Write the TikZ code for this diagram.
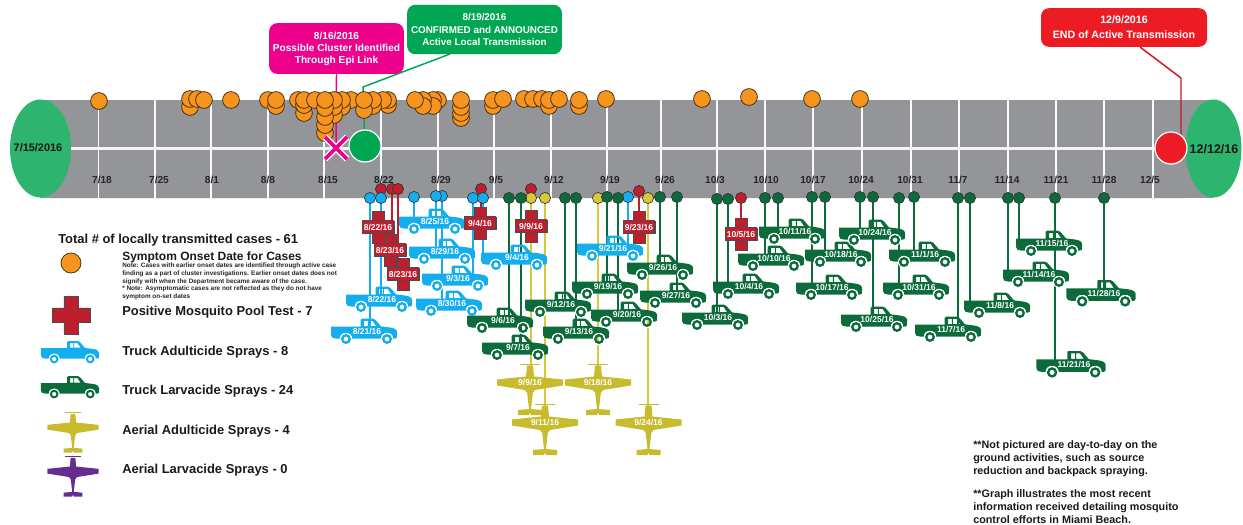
\documentclass[tikz,border=0pt]{standalone}
\usepackage{fontspec}
\setmainfont{Liberation Sans}
\usetikzlibrary{backgrounds}
\pgfdeclarelayer{barlayer}
\pgfdeclarelayer{connlayer}
\pgfsetlayers{barlayer,connlayer,main}
\definecolor{barG}{HTML}{939598}
\definecolor{endG}{HTML}{2DB46E}
\definecolor{orangeC}{HTML}{F7941D}
\definecolor{edgeC}{HTML}{3B2A14}
\definecolor{blueC}{HTML}{14AEEF}
\definecolor{greenC}{HTML}{0B6B3A}
\definecolor{yelC}{HTML}{C8BB2E}
\definecolor{yelL}{HTML}{D8C93A}
\definecolor{purC}{HTML}{662D91}
\definecolor{redC}{HTML}{BE1E2D}
\definecolor{magC}{HTML}{EC008C}
\definecolor{grnC}{HTML}{00A651}
\definecolor{endR}{HTML}{ED1C24}
\tikzset{
  x=0.75pt,y=-0.75pt,
  ticklbl/.style={font=\bfseries\fontsize{7.6}{9}\selectfont,text=black!85,inner sep=0},
  onsetdot/.style={circle,draw=edgeC,line width=.55pt,fill=orangeC,minimum size=12.6pt,inner sep=0},
  basedot/.style={circle,draw=black!80,line width=.5pt,minimum size=8.4pt,inner sep=0},
  linkline/.style={line width=1.15pt},
  vehlbl/.style={text=white,font=\bfseries\fontsize{6.4}{7}\selectfont,inner sep=0,minimum width=1pt},
  crosslbl/.style={fill=redC,draw=black!70,line width=.4pt,text=white,font=\bfseries\fontsize{6.4}{7}\selectfont,inner sep=0,minimum width=23.5pt,minimum height=10pt},
  callout/.style={rounded corners=6pt,text=white,align=center,font=\bfseries\fontsize{7.6}{9}\selectfont,inner sep=0},
  legendtxt/.style={anchor=west,inner sep=0,font=\bfseries\fontsize{9.7}{11}\selectfont,text=black!90},
  endlbl/.style={inner sep=0,font=\bfseries,text=black!90},
}
\newcommand{\trkshape}[4]{%
  \begin{scope}[shift={(#1,#2)},scale=#3]
    \fill[#4,even odd rule] (-33,-4.3) -- (-33,4) .. controls (-33,6.5) and (-31,7.5) .. (-28,7.5) -- (-24.2,7.5) .. controls (-24.2,-0.3) and (-11.8,-0.3) .. (-11.8,7.5) -- (16.8,7.5) .. controls (16.8,-0.3) and (29.2,-0.3) .. (29.2,7.5) -- (31,7.5) .. controls (33,7) .. (33,4) -- (33,1) .. controls (33,-1.5) and (30,-3) .. (26,-3.5) -- (17,-4.6) -- (11.5,-11) .. controls (10.5,-12.3) .. (9,-12.3) -- (-2,-12.3) .. controls (-3.4,-12.3) .. (-3.4,-11) -- (-3.4,-4.3) -- cycle
      (0,-10.2) -- (3.8,-10.2) -- (3.8,-5) -- (0,-5) -- cycle
      (4.8,-10.2) -- (8.5,-10.2) -- (12,-5) -- (4.8,-5) -- cycle;
    \fill[white,even odd rule] (-18,8) circle[radius=6.1] (-18,8) circle[radius=5];
    \fill[white,even odd rule] (23,8) circle[radius=6.1] (23,8) circle[radius=5];
    \fill[#4,even odd rule] (-18,8) circle[radius=5] (-18,8) circle[radius=2.5];
    \fill[#4,even odd rule] (23,8) circle[radius=5] (23,8) circle[radius=2.5];
  \end{scope}}
\newcommand{\trk}[6][1]{%
  \trkshape{#3}{#4}{#1}{#5}
  \node[vehlbl] (#2) at (#3+3,#4) {#6};}
\newcommand{\plshape}[4]{%
  \begin{scope}[shift={(#1,#2)},scale=#3]
    \fill[#4] (-10,.6) -- (10,.6) -- (10,1.4) -- (-10,1.4) -- cycle;
    \fill[#4] (-3,2.5) -- (3,2.5) -- (4,13.5) -- (33,16.5) -- (33,22.5) -- (5,27) -- (2.8,30) -- (1,46) -- (12,47) -- (12,52) -- (1,52) -- (0,49.5) -- (-1,52) -- (-12,52) -- (-12,47) -- (-1,46) -- (-2.8,30) -- (-5,27) -- (-33,22.5) -- (-33,16.5) -- (-4,13.5) -- cycle;
  \end{scope}}
\newcommand{\pln}[5]{%
  \plshape{#2}{#3}{1}{#4}
  \node[vehlbl] (#1) at (#2,#3+19) {#5};}
\newcommand{\crsshape}[3]{%
  \begin{scope}[shift={(#1,#2)},scale=#3]
    \filldraw[fill=redC,draw=black!70,line width=.5pt] (-6,-16) -- (6,-16) -- (6,-6) -- (16,-6) -- (16,6) -- (6,6) -- (6,16) -- (-6,16) -- (-6,6) -- (-16,6) -- (-16,-6) -- (-6,-6) -- cycle;
  \end{scope}}
\newcommand{\crs}[4]{%
  \crsshape{#2}{#3}{1}
  \node[crosslbl] (#1) at (#2,#3) {#4};}
\newcommand{\bd}[4]{\node[basedot,fill=#4] (#1) at (#2,#3) {};}
\newcommand{\lnk}[3]{\begin{pgfonlayer}{connlayer}\draw[linkline,#3] (#1) -- (#1 |- #2);\end{pgfonlayer}}
\newcommand{\od}[3]{\node[onsetdot] (o#1) at (#2,#3) {};}
\begin{document}
\begin{tikzpicture}
\useasboundingbox (0,0) rectangle (1243,525);
\begin{pgfonlayer}{barlayer}
  \fill[barG] (40,99.5) rectangle (1213,198);
  \draw[white!85!barG,line width=.8pt] (40,198.3) -- (1185,198.3);
  \foreach \x in {98.5,155,211,268,324,381,438,494,551,607,661,717,765,813,862,911,959,1008,1056,1104,1153}
    \draw[white!95!barG,line width=1.1pt] (\x,100) -- (\x,198);
  \draw[white!90!barG,line width=2.3pt] (60,148.5) -- (1160,148.5);
  \fill[endG] (40.5,148.5) ellipse[x radius=30.5,y radius=49];
  \fill[endG] (1213.5,148.5) ellipse[x radius=28,y radius=49];
\end{pgfonlayer}
% tick labels
\node[ticklbl] (t1) at (102,180) {7/18};
\node[ticklbl] (t2) at (159,180) {7/25};
\node[ticklbl] (t3) at (212,180) {8/1};
\node[ticklbl] (t4) at (268,180) {8/8};
\node[ticklbl] (t5) at (328,180) {8/15};
\node[ticklbl] (t6) at (384,180) {8/22};
\node[ticklbl] (t7) at (441,180) {8/29};
\node[ticklbl] (t8) at (496,180) {9/5};
\node[ticklbl] (t9) at (554,180) {9/12};
\node[ticklbl] (t10) at (610,180) {9/19};
\node[ticklbl] (t11) at (665,180) {9/26};
\node[ticklbl] (t12) at (715,180) {10/3};
\node[ticklbl] (t13) at (766,180) {10/10};
\node[ticklbl] (t14) at (813,180) {10/17};
\node[ticklbl] (t15) at (861,180) {10/24};
\node[ticklbl] (t16) at (910,180) {10/31};
\node[ticklbl] (t17) at (958,180) {11/7};
\node[ticklbl] (t18) at (1007,180) {11/14};
\node[ticklbl] (t19) at (1056,180) {11/21};
\node[ticklbl] (t20) at (1104,180) {11/28};
\node[ticklbl] (t21) at (1150,180) {12/5};
\node[endlbl,font=\bfseries\fontsize{8.2}{10}\selectfont] (startlbl) at (38,148) {7/15/2016};
\node[endlbl,font=\bfseries\fontsize{9.4}{11}\selectfont] (endlbl) at (1214,149) {12/12/16};
% onset dots
\od{a}{99}{101}
\od{b}{190}{107}\od{c}{190}{99}\od{d}{197}{99}\od{e}{204}{100}
\od{f}{231}{100}
\od{g}{268}{100}\od{h}{276}{106}\od{i}{276}{100}
\od{j}{298}{100}\od{k}{304}{113}\od{l}{304}{105}\od{m}{304}{100}\od{n}{315}{100}
\od{o}{351}{100}\od{p}{342}{107}\od{q}{342}{100}\od{r}{334}{115}\od{s}{334}{107}\od{t}{334}{100}
\od{u}{325}{133}\od{v}{325}{125}\od{w}{325}{117}\od{x}{325}{108}\od{y}{325}{100}
\od{z}{388}{105}\od{aa}{388}{100}\od{ab}{383}{100}\od{ac}{373}{106}\od{ad}{373}{100}\od{ae}{364}{110}\od{af}{364}{100}
\od{aj}{438}{100}\od{al}{433}{100}\od{ak}{433}{106}\od{ai}{423}{100}\od{ah}{423}{106}\od{ag}{415}{100}
\od{am}{461}{118}\od{an}{461}{113}\od{ao}{461}{107}\od{ap}{461}{100}
\od{aq}{493}{106}\od{ar}{493}{100}\od{as}{503}{99}
\od{at}{524}{99}\od{au}{533}{99}\od{av}{542}{99}\od{aw}{549}{106}\od{ax}{549}{100}\od{ay}{559}{99}
\od{az}{579}{106}\od{ba}{579}{100}\od{bb}{606}{99}
\od{bc}{702}{99}\od{bd}{749}{97}\od{be}{812}{99}\od{bf}{860}{99}
% milestones
\node[circle,fill=grnC,draw=white,line width=.9pt,minimum size=24pt,inner sep=0] (mgreen) at (365,146) {};
\node[circle,fill=endR,draw=white,line width=.9pt,minimum size=24pt,inner sep=0] (mred) at (1171,148) {};
\coordinate (mx) at (336,148);
\draw[white,line width=5pt] (325,137) -- (347,159) (347,137) -- (325,159);
\draw[magC,line width=2.9pt] (325,137) -- (347,159) (347,137) -- (325,159);
\node[callout,fill=magC,minimum width=101pt,minimum height=38pt] (cmag) at (336.5,48.5) {8/16/2016\\Possible Cluster Identified\\Through Epi Link};
\node[callout,fill=grnC,minimum width=116pt,minimum height=37pt,font=\bfseries\fontsize{7.4}{9.2}\selectfont] (cgrn) at (484.5,29.5) {8/19/2016\\CONFIRMED and ANNOUNCED\\Active Local Transmission};
\node[callout,fill=endR,minimum width=124.5pt,minimum height=29pt,font=\bfseries\fontsize{8}{11}\selectfont] (cred) at (1124,27.5) {12/9/2016\\END of Active Transmission};
\coordinate (gbend) at (363,87);
\coordinate (rbend) at (1181,78);
\coordinate (rfoot) at (1140,47);
\coordinate (gfoot) at (450,54);
\begin{pgfonlayer}{connlayer}
  \draw[magC,line width=1.1pt] (cmag.south) -- (mx);
  \draw[grnC,line width=1.1pt] (mgreen) -- (gbend) -- (gfoot);
  \draw[endR!85!black,line width=1.1pt] (mred) -- (mred -| rbend) -- (rbend) -- (rfoot);
\end{pgfonlayer}
% trucks blue
\trk{b821}{364}{331}{blueC}{8/21/16}
\trk{b822}{379}{299}{blueC}{8/22/16}
\trk{b825}{432}{221}{blueC}{8/25/16}
\trk{b829}{442}{251}{blueC}{8/29/16}
\trk{b903}{455}{278}{blueC}{9/3/16}
\trk{b830}{449}{303}{blueC}{8/30/16}
\trk{b904}{514}{257}{blueC}{9/4/16}
\trk{b921}{610}{248}{blueC}{9/21/16}
% planes (below trucks)
\pln{p909}{530}{363}{yelC}{9/9/16}
\pln{p918}{598}{363}{yelC}{9/18/16}
\pln{p911}{545}{403}{yelC}{9/11/16}
\pln{p924}{648.5}{403}{yelC}{9/24/16}
% trucks green
\trk{g906}{500}{320}{greenC}{9/6/16}
\trk{g907}{515}{347}{greenC}{9/7/16}
\trk{g912}{558}{304}{greenC}{9/12/16}
\trk{g913}{576}{331}{greenC}{9/13/16}
\trk{g919}{605}{286}{greenC}{9/19/16}
\trk{g920}{624}{314}{greenC}{9/20/16}
\trk{g926}{660}{267}{greenC}{9/26/16}
\trk{g927}{673}{295}{greenC}{9/27/16}
\trk{g1003}{715}{317}{greenC}{10/3/16}
\trk{g1004}{746}{286}{greenC}{10/4/16}
\trk{g1010}{771}{258}{greenC}{10/10/16}
\trk{g1011}{792}{231}{greenC}{10/11/16}
\trk{g1017}{829}{287}{greenC}{10/17/16}
\trk{g1018}{838}{254}{greenC}{10/18/16}
\trk{g1024}{872}{232}{greenC}{10/24/16}
\trk{g1025}{874}{319}{greenC}{10/25/16}
\trk{g1031}{916}{287}{greenC}{10/31/16}
\trk{g1101}{922}{254}{greenC}{11/1/16}
\trk{g1107}{948}{329}{greenC}{11/7/16}
\trk{g1108}{997}{305}{greenC}{11/8/16}
\trk{g1115}{1049}{243}{greenC}{11/15/16}
\trk{g1114}{1036}{274}{greenC}{11/14/16}
\trk[1.05]{g1121}{1071}{364}{greenC}{11/21/16}
\trk[1.05]{g1128}{1101}{293}{greenC}{11/28/16}
% crosses
\crs{x822}{378}{227}{8/22/16}
\crs{x823}{390}{250}{8/23/16}
\crs{x823b}{403}{274}{8/23/16}
\crs{x904}{480}{223}{9/4/16}
\crs{x909}{531}{226}{9/9/16}
\crs{x923}{639}{227}{9/23/16}
\crs{x1005}{741}{234}{10/5/16}
% base dots: red first, then others
\bd{dr1}{381}{189}{redC}\bd{dr2}{392}{189}{redC}\bd{dr3}{398}{189}{redC}\bd{dr4}{481}{189}{redC}\bd{dr5}{531}{189}{redC}\bd{dr6}{639}{191}{redC}\bd{dr7}{741}{198}{redC}
\bd{db1}{370}{198}{blueC}\bd{db2}{381}{198}{blueC}\bd{db3}{414}{197}{blueC}\bd{db4}{442}{196}{blueC}\bd{db5}{436}{196}{blueC}\bd{db6}{473}{198}{blueC}\bd{db7}{483}{198}{blueC}\bd{db8}{628}{197}{blueC}
\bd{dy1}{531}{198}{yelL}\bd{dy2}{545}{198}{yelL}\bd{dy3}{598}{198}{yelL}\bd{dy4}{648}{198}{yelL}
\bd{dg1}{509}{198}{greenC}\bd{dg2}{521}{198}{greenC}\bd{dg3}{565}{198}{greenC}\bd{dg4}{576}{198}{greenC}\bd{dg5}{607}{197}{greenC}\bd{dg6}{618}{198}{greenC}\bd{dg7}{660}{197}{greenC}\bd{dg8}{677}{197}{greenC}
\bd{dg9}{717}{199}{greenC}\bd{dg10}{728}{199}{greenC}\bd{dg11}{765}{198}{greenC}\bd{dg12}{778}{198}{greenC}\bd{dg13}{812}{197}{greenC}\bd{dg14}{825}{197}{greenC}\bd{dg15}{860}{197}{greenC}\bd{dg16}{873}{197}{greenC}\bd{dg17}{899}{198}{greenC}\bd{dg18}{914}{197}{greenC}\bd{dg19}{958}{198}{greenC}\bd{dg20}{970}{198}{greenC}\bd{dg21}{1008}{198}{greenC}\bd{dg22}{1019}{198}{greenC}\bd{dg23}{1055}{198}{greenC}\bd{dg24}{1104}{198}{greenC}
% connectors
\lnk{dr1}{x822}{redC}\lnk{dr2}{x823}{redC}\lnk{dr3}{x823b}{redC}\lnk{dr4}{x904}{redC}\lnk{dr5}{x909}{redC}\lnk{dr6}{x923}{redC}\lnk{dr7}{x1005}{redC}
\lnk{db1}{b821}{blueC}\lnk{db2}{b822}{blueC}\lnk{db3}{b825}{blueC}\lnk{db5}{b829}{blueC}\lnk{db4}{b830}{blueC}\lnk{db6}{b903}{blueC}\lnk{db7}{b904}{blueC}\lnk{db8}{b921}{blueC}
\lnk{dy1}{p909}{yelL}\lnk{dy2}{p911}{yelL}\lnk{dy3}{p918}{yelL}\lnk{dy4}{p924}{yelL}
\lnk{dg1}{g906}{greenC}\lnk{dg2}{g907}{greenC}\lnk{dg3}{g912}{greenC}\lnk{dg4}{g913}{greenC}\lnk{dg5}{g919}{greenC}\lnk{dg6}{g920}{greenC}\lnk{dg7}{g926}{greenC}\lnk{dg8}{g927}{greenC}
\lnk{dg9}{g1003}{greenC}\lnk{dg10}{g1004}{greenC}\lnk{dg11}{g1010}{greenC}\lnk{dg12}{g1011}{greenC}\lnk{dg13}{g1017}{greenC}\lnk{dg14}{g1018}{greenC}\lnk{dg15}{g1024}{greenC}\lnk{dg16}{g1025}{greenC}\lnk{dg17}{g1031}{greenC}\lnk{dg18}{g1101}{greenC}\lnk{dg19}{g1107}{greenC}\lnk{dg20}{g1108}{greenC}\lnk{dg21}{g1114}{greenC}\lnk{dg22}{g1115}{greenC}\lnk{dg23}{g1121}{greenC}\lnk{dg24}{g1128}{greenC}
% legend
\node[legendtxt] (ltotal) at (58,240) {Total \# of locally transmitted cases - 61};
\node[onsetdot,minimum size=15pt] (lorange) at (71,263) {};
\node[legendtxt,font=\bfseries\fontsize{9}{10}\selectfont] (lsym) at (122,257) {Symptom Onset Date for Cases};
\node[anchor=north west,inner sep=0,align=left,font=\bfseries\fontsize{4.8}{5.85}\selectfont,text=black!85] (lnote) at (122,262.5) {Note: Cases with earlier onset dates are identified through active case\\finding as a part of cluster investigations. Earlier onset dates does not\\signify with when the Department became aware of the case.\\* Note: Asymptomatic cases are not reflected as they do not have\\symptom on-set dates};
\crsshape{71}{315}{1.18}
\node[legendtxt] (lpool) at (122,312) {Positive Mosquito Pool Test - 7};
\trkshape{70}{352}{.88}{blueC}
\node[legendtxt] (ltad) at (122,352) {Truck Adulticide Sprays - 8};
\trkshape{70}{387}{.88}{greenC}
\node[legendtxt] (ltla) at (122,391) {Truck Larvacide Sprays - 24};
\plshape{73}{412}{.78}{yelC}
\node[legendtxt] (laad) at (122,431) {Aerial Adulticide Sprays - 4};
\plshape{73}{456}{.78}{purC}
\node[legendtxt] (lala) at (122,470) {Aerial Larvacide Sprays - 0};
% footnotes
\node[anchor=north west,inner sep=0,align=left,font=\bfseries\fontsize{8.1}{9.75}\selectfont,text=black!90] (fn1) at (973,440) {**Not pictured are day-to-day on the\\ground activities, such as source\\reduction and backpack spraying.};
\node[anchor=north west,inner sep=0,align=left,font=\bfseries\fontsize{8.1}{9.6}\selectfont,text=black!90] (fn2) at (973,489.5) {**Graph illustrates the most recent\\information received detailing mosquito\\control efforts in Miami Beach.};
\end{tikzpicture}
\end{document}
